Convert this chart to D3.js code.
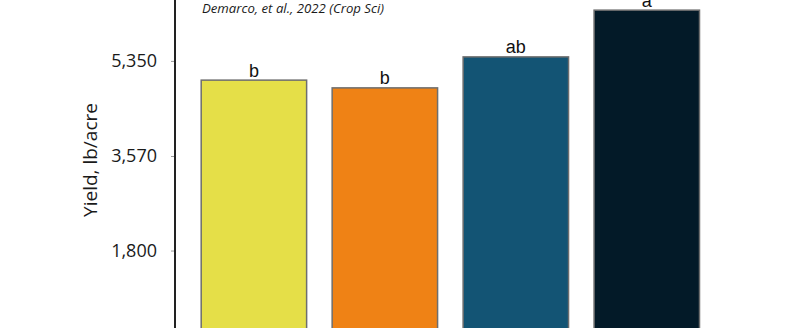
<!DOCTYPE html>
<html>
<head>
<meta charset="utf-8">
<script src="https://cdn.jsdelivr.net/npm/d3@7"></script>
<style>
  html, body { margin: 0; padding: 0; background: #fff; }
  svg { display: block; }
</style>
</head>
<body>
<svg id="chart" width="804" height="328"></svg>
<script>
const categories = ["Treatment 1", "Treatment 2", "Treatment 3", "Treatment 4"];
const yieldValues = [4990, 4845, 5425, 6300];
const letters = ["b", "b", "ab", "a"];
const barColors = ["#E5DF48", "#EF8215", "#135474", "#031A28"];
const tickValues = [1800, 3570, 5350];
const tickLabels = ["1,800", "3,570", "5,350"];
const titleText = "Demarco, et al., 2022 (Crop Sci)";
const yLabel = "Yield, lb/acre";

const svg = d3.select("#chart");
const axisX = 175;

const y = d3.scaleLinear().domain([0, 6490]).range([346.7, 0]);
const x = d3.scaleBand().domain(categories).range([axisX, 725.7])
  .paddingInner(0.195).paddingOuter(0.2);

// bars
svg.append("g").selectAll("rect").data(categories).join("rect")
  .attr("x", d => x(d))
  .attr("width", x.bandwidth())
  .attr("y", (d, i) => y(yieldValues[i]))
  .attr("height", (d, i) => y(0) - y(yieldValues[i]))
  .attr("fill", (d, i) => barColors[i])
  .attr("stroke", "#6e6e6e")
  .attr("stroke-width", 1.5);

// letters
svg.append("g").selectAll("text").data(categories).join("text")
  .attr("x", d => x(d) + x.bandwidth() / 2)
  .attr("y", (d, i) => y(yieldValues[i]) - 3.5)
  .attr("text-anchor", "middle")
  .attr("font-family", "Liberation Sans, Arial, sans-serif")
  .attr("font-size", 18)
  .attr("fill", "#111")
  .text((d, i) => letters[i]);

// y axis
const yAxis = d3.axisLeft(y).tickValues(tickValues)
  .tickFormat((d, i) => tickLabels[i])
  .tickSizeInner(4).tickSizeOuter(0).tickPadding(14);
const gy = svg.append("g").attr("transform", `translate(${axisX},0)`).call(yAxis);
gy.select(".domain").remove();
gy.selectAll(".tick line").attr("stroke", "#9a9a9a").attr("stroke-width", 1);
gy.selectAll(".tick text")
  .attr("font-family", "Open Sans, sans-serif")
  .attr("font-size", 18)
  .attr("fill", "#1a1a1a");
gy.append("line")
  .attr("x1", 0).attr("x2", 0)
  .attr("y1", 0).attr("y2", 328)
  .attr("stroke", "#222").attr("stroke-width", 2);

// y label
svg.append("text")
  .attr("transform", "translate(97,160) rotate(-90)")
  .attr("text-anchor", "middle")
  .attr("font-family", "Open Sans, sans-serif")
  .attr("font-size", 19)
  .attr("fill", "#1a1a1a")
  .text(yLabel);

// title
svg.append("text")
  .attr("x", 293)
  .attr("y", 13)
  .attr("text-anchor", "middle")
  .attr("font-family", "Open Sans, sans-serif")
  .attr("font-style", "italic")
  .attr("font-size", 13.2)
  .attr("fill", "#1a1a1a")
  .text(titleText);
</script>
</body>
</html>
